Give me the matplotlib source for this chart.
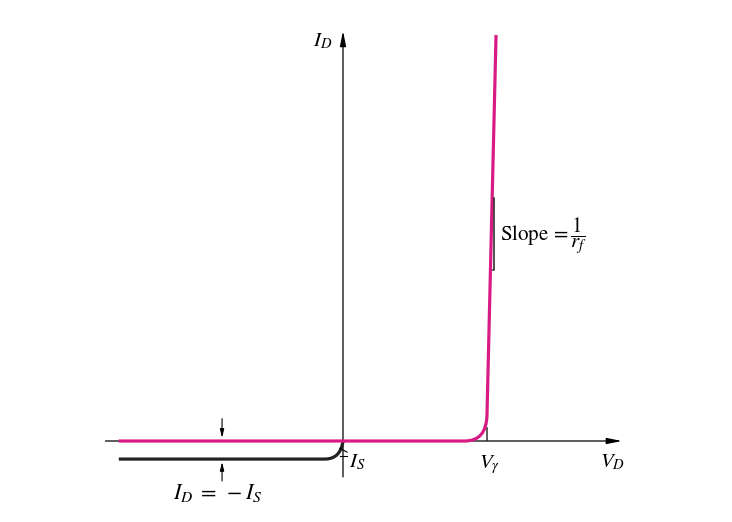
import matplotlib
matplotlib.use("Agg")
import matplotlib.pyplot as plt
from matplotlib.path import Path
from matplotlib.patches import PathPatch

plt.rcParams["mathtext.fontset"] = "stix"
plt.rcParams["font.family"] = ["Liberation Serif", "DejaVu Serif"]

# diagram units: V_D in volts, I_D in mA (not to scale, like the textbook sketch)
V_GAMMA = 0.7
I_S = 0.89
V_LEFT = -1.09
V_AXIS_LEFT = -1.155
V_AXIS_RIGHT = 1.356
I_AXIS_TOP = 20.2
I_AXIS_BOTTOM = -1.77

# forward branch: flat, rounded knee, then steep 1/r_f line
fwd_v = [V_LEFT, 0.593, 0.697, 0.700, 0.744]
fwd_i = [0.0, 0.0, 0.0, 1.28, 20.0]
fwd_codes = [Path.MOVETO, Path.LINETO, Path.CURVE3, Path.CURVE3, Path.LINETO]

# reverse branch: -I_S, rounding up into the origin
rev_v = [V_LEFT, -0.088, -0.012, 0.0]
rev_i = [-I_S, -I_S, -I_S, 0.0]
rev_codes = [Path.MOVETO, Path.LINETO, Path.CURVE3, Path.CURVE3]

MAGENTA = "#d81b84"

# pixel mapping of the reference
X0, Y0, SX, SY = 343, 441, 205.7, 20.3
W, H = 732, 522

fig = plt.figure(figsize=(W / 100, H / 100), dpi=100)
ax = fig.add_axes([0, 0, 1, 1])
ax.set_xlim(-X0 / SX, (W - X0) / SX)
ax.set_ylim(-(H - Y0) / SY, Y0 / SY)
ax.axis("off")

arrow = dict(arrowstyle="-|>,head_length=0.9,head_width=0.18", color="black",
             lw=0.9, shrinkA=0, shrinkB=0)

# axes
ax.annotate("", xy=(V_AXIS_RIGHT, 0), xytext=(V_AXIS_LEFT, 0), arrowprops=arrow)
ax.annotate("", xy=(0, I_AXIS_TOP), xytext=(0, I_AXIS_BOTTOM), arrowprops=arrow)

# curves
ax.add_patch(PathPatch(Path(list(zip(rev_v, rev_i)), rev_codes), fill=False,
                       lw=2.3, ec="#222222", capstyle="butt", zorder=3))
ax.add_patch(PathPatch(Path(list(zip(fwd_v, fwd_i)), fwd_codes), fill=False,
                       lw=2.3, ec=MAGENTA, capstyle="butt", zorder=4))

# V_gamma tick
ax.plot([V_GAMMA, V_GAMMA], [0.05, 0.64], color="#444444", lw=1.2)

# slope bracket
ax.plot([0.735, 0.735, 0.728], [11.97, 8.42, 8.42], color="#222222", lw=1.1,
        zorder=5)

# I_S dimension arrows
small = dict(arrowstyle="-|>,head_length=0.5,head_width=0.12",
             color="black", lw=0.8, shrinkA=0, shrinkB=0)
ax.annotate("", xy=(-0.588, 0.15), xytext=(-0.588, 1.1), arrowprops=small)
ax.annotate("", xy=(-0.588, -1.03), xytext=(-0.588, -1.97), arrowprops=small)

# small break marks on the I_D axis near I_S
ax.plot([-0.015, 0.02], [-0.36, -0.55], color="black", lw=0.8, zorder=5)
ax.plot([-0.015, 0.02], [-0.72, -0.72], color="black", lw=0.8, zorder=5)

fs = 15
ax.text(-0.10, 19.7, r"$I_D$", fontsize=fs, ha="center", va="center")
ax.text(1.31, -1.08, r"$V_D$", fontsize=fs, ha="center", va="center")
ax.text(0.715, -1.18, r"$V_\gamma$", fontsize=fs, ha="center", va="center")
ax.text(0.03, -1.05, r"$I_S$", fontsize=fs, ha="left", va="center")
ax.text(-0.608, -2.55, r"$I_D\;=\;-I_S$", fontsize=fs + 1, ha="center",
        va="center")
ax.text(0.765, 10.1, r"$\mathrm{Slope}\,=\dfrac{1}{r_f}$", fontsize=fs,
        ha="left", va="center")

fig.savefig("out.png", dpi=100)
